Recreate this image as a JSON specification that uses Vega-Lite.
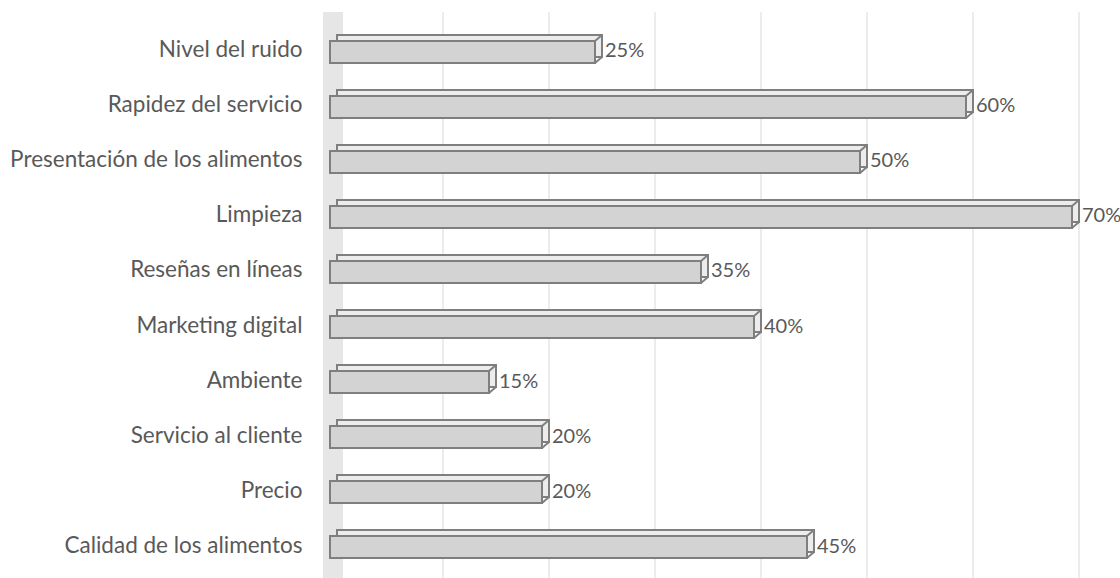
{
  "$schema": "https://vega.github.io/schema/vega-lite/v6.json",
  "width": 795,
  "height": 566,
  "autosize": {"type": "none"},
  "padding": {"left": 330, "top": 12, "right": 0, "bottom": 0},
  "background": "white",
  "config": {"view": {"stroke": null}},
  "data": {"values": [
    {"factor": "Nivel del ruido", "v": 0.25},
    {"factor": "Rapidez del servicio", "v": 0.60},
    {"factor": "Presentación de los alimentos", "v": 0.50},
    {"factor": "Limpieza", "v": 0.70},
    {"factor": "Reseñas en líneas", "v": 0.35},
    {"factor": "Marketing digital", "v": 0.40},
    {"factor": "Ambiente", "v": 0.15},
    {"factor": "Servicio al cliente", "v": 0.20},
    {"factor": "Precio", "v": 0.20},
    {"factor": "Calidad de los alimentos", "v": 0.45}
  ]},
  "resolve": {"scale": {"x": "shared", "y": "shared"}},
  "layer": [
    {
      "data": {"values": [{"t": 0}]},
      "mark": {"type": "rect", "color": "#e6e6e6", "xOffset": -7, "x2Offset": 13},
      "encoding": {
        "x": {"field": "t", "type": "quantitative", "scale": {"domain": [0, 0.75], "nice": false, "zero": true}, "axis": null},
        "x2": {"field": "t"}
      }
    },
    {
      "data": {"values": [{"t": 0.1}, {"t": 0.2}, {"t": 0.3}, {"t": 0.4}, {"t": 0.5}, {"t": 0.6}, {"t": 0.7}]},
      "mark": {"type": "rule", "color": "#e6e6e6", "strokeWidth": 1.5, "xOffset": 7},
      "encoding": {
        "x": {"field": "t", "type": "quantitative"}
      }
    },
    {
      "mark": {"type": "bar", "fill": "#ececec", "stroke": "#7f7f7f", "strokeWidth": 2, "xOffset": 7, "x2Offset": 7, "yOffset": -1.5},
      "encoding": {
        "y": {"field": "factor", "type": "nominal", "sort": null,
              "scale": {"paddingInner": 0.6, "paddingOuter": 0.445},
              "axis": {"title": null, "domain": false, "ticks": false, "labelPadding": 28, "labelFontSize": 22.5, "labelFont": "Lato", "labelColor": "#595959", "labelOffset": 3, "labelLimit": 400}},
        "x": {"field": "v", "type": "quantitative"},
        "x2": {"datum": 0}
      }
    },
    {
      "mark": {"type": "bar", "fill": "#d3d3d3", "stroke": "#7f7f7f", "strokeWidth": 2, "yOffset": 4.5},
      "encoding": {
        "y": {"field": "factor", "type": "nominal", "sort": null},
        "x": {"field": "v", "type": "quantitative"},
        "x2": {"datum": 0}
      }
    },
    {
      "mark": {"type": "rule", "stroke": "#7f7f7f", "strokeWidth": 2, "x2Offset": 7, "yOffset": -6.5, "y2Offset": -12.5},
      "encoding": {
        "y": {"field": "factor", "type": "nominal", "sort": null},
        "y2": {"field": "factor"},
        "x": {"field": "v", "type": "quantitative"},
        "x2": {"field": "v"}
      }
    },
    {
      "mark": {"type": "rule", "stroke": "#7f7f7f", "strokeWidth": 2, "x2Offset": 7, "yOffset": 15.5, "y2Offset": 9.5},
      "encoding": {
        "y": {"field": "factor", "type": "nominal", "sort": null},
        "y2": {"field": "factor"},
        "x": {"field": "v", "type": "quantitative"},
        "x2": {"field": "v"}
      }
    },
    {
      "mark": {"type": "text", "align": "left", "baseline": "middle", "dx": 10, "yOffset": 4, "fontSize": 20, "font": "Lato", "color": "#595959"},
      "encoding": {
        "y": {"field": "factor", "type": "nominal", "sort": null},
        "x": {"field": "v", "type": "quantitative"},
        "text": {"field": "v", "type": "quantitative", "format": ".0%"}
      }
    }
  ]
}
